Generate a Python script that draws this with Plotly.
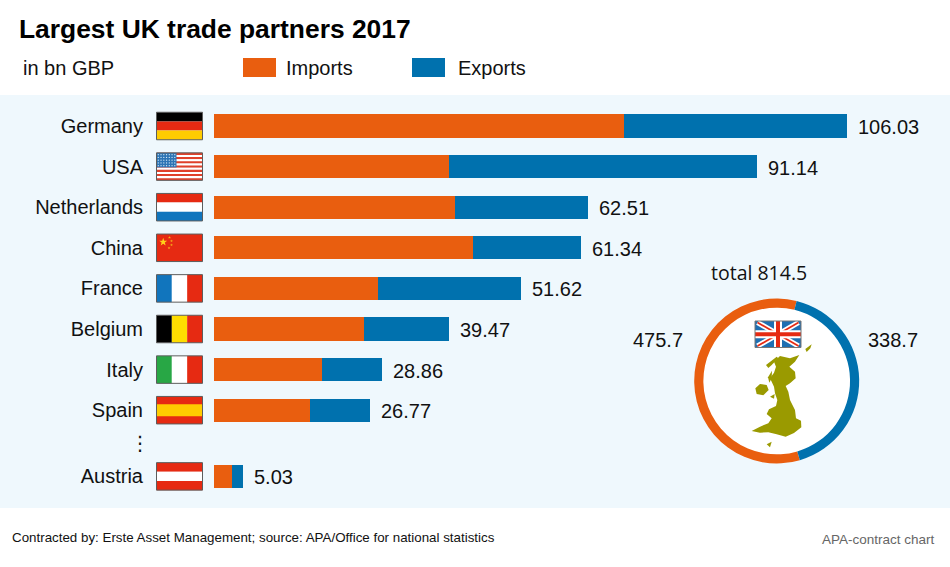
import plotly.graph_objects as go
import math

W, H = 950, 567
countries = ["Germany", "USA", "Netherlands", "China", "France", "Belgium", "Italy", "Spain", "Austria"]
imports = [68.7, 39.4, 40.4, 43.4, 27.4, 25.1, 18.1, 16.1, 3.0]
exports = [37.33, 51.5, 22.2, 18.1, 24.1, 14.3, 10.1, 10.1, 1.8]
totals = [106.03, 91.14, 62.51, 61.34, 51.62, 39.47, 28.86, 26.77, 5.03]
rows = [0, 1, 2, 3, 4, 5, 6, 7, 8.63]
ring_labels = ["Imports", "Exports"]
ring_values = [475.7, 338.7]
ring_total = 814.5

ORANGE = "#E95E0F"
BLUE = "#0071AE"
PANEL = "#EFF8FD"
FONT = "Liberation Sans"
RED, YEL = "#E62A12", "#FFCC00"
BORDER = "#5d5d5d"

PANEL_TOP, PANEL_BOT = 95, 508
ROW0, ROW_STEP = 126, 40.6
BAR_X0, PX_PER = 214, 5.97

fx = lambda x: x / W
fy = lambda y: 1 - y / H


def pth(pts):
    return "M" + "L".join(f"{fx(x):.5f},{fy(y):.5f}" for x, y in pts) + "Z"


shapes = []


def poly(pts, color, layer="below"):
    shapes.append(dict(type="path", path=pth(pts), xref="paper", yref="paper",
                       fillcolor=color, line=dict(width=0), layer=layer))


def box(x0, y0, x1, y1, color, line=None, layer="below"):
    shapes.append(dict(type="rect", xref="paper", yref="paper", x0=fx(x0), x1=fx(x1),
                       y0=fy(y0), y1=fy(y1), fillcolor=color, layer=layer,
                       line=dict(width=1, color=line) if line else dict(width=0)))


def circle(cx, cy, r, color):
    shapes.append(dict(type="circle", xref="paper", yref="paper", x0=fx(cx - r), x1=fx(cx + r),
                       y0=fy(cy - r), y1=fy(cy + r), fillcolor=color, line=dict(width=0), layer="below"))


box(0, PANEL_TOP, W, PANEL_BOT, PANEL)

FX0, FX1, FH = 156.5, 202.5, 27.5


def hstripes(cy, cols):
    t = cy - FH / 2
    n = len(cols)
    for i, c in enumerate(cols):
        box(FX0, t + FH * i / n, FX1, t + FH * (i + 1) / n, c)


def vstripes(cy, cols):
    t = cy - FH / 2
    n = len(cols)
    w = (FX1 - FX0) / n
    for i, c in enumerate(cols):
        box(FX0 + w * i, t, FX0 + w * (i + 1), t + FH, c)


def frame(cy):
    box(FX0, cy - FH / 2, FX1, cy + FH / 2, "rgba(0,0,0,0)", line=BORDER)


def star(cx, cy, r, color):
    pts = []
    for i in range(10):
        a = -math.pi / 2 + i * math.pi / 5
        rr = r if i % 2 == 0 else r * 0.4
        pts.append((cx + rr * math.cos(a), cy + rr * math.sin(a)))
    poly(pts, color)


cys = [ROW0 + ROW_STEP * r for r in rows]
hstripes(cys[0], ["#000000", RED, YEL])
# USA
t = cys[1] - FH / 2
for i in range(13):
    c = "#E0402A" if i % 2 == 0 else "#ffffff"
    box(FX0, t + FH * i / 13, FX1, t + FH * (i + 1) / 13, c)
box(FX0, t, FX0 + 20, t + 14.5, "#2C74B5")
for j in range(5):
    for i in range(7):
        circle(FX0 + 1.8 + i * 2.75, t + 1.8 + j * 2.75, 0.65, "#D5E8F5")
hstripes(cys[2], [RED, "#ffffff", "#1175BD"])
# China
box(FX0, cys[3] - FH / 2, FX1, cys[3] + FH / 2, RED)
star(163.2, 242, 4.2, "#FFD21A")
for dx, dy in ((169.5, 237.5), (171.5, 241), (171.5, 245), (169, 248)):
    star(dx, dy, 1.5, "#F6B51A")
vstripes(cys[4], ["#1175BD", "#ffffff", RED])
vstripes(cys[5], ["#000000", "#FFDD00", RED])
vstripes(cys[6], ["#28A745", "#ffffff", RED])
t = cys[7] - FH / 2
box(FX0, t, FX1, t + FH, RED)
box(FX0, t + FH * 0.28, FX1, t + FH * 0.72, YEL)
hstripes(cys[8], [RED, "#ffffff", RED])
for cy in cys:
    frame(cy)

# legend swatches
box(243, 58, 276, 77, ORANGE)
box(412, 58, 445, 77, BLUE)

# white centre of the ring
RCX, RCY, ROUT = 776.7, 381, 82.5
circle(RCX, RCY, ROUT - 1, "#ffffff")

# UK flag
ux0, ux1, uy0, uy1 = 755, 801, 321, 347.5
box(ux0, uy0, ux1, uy1, "#1F6FB2")


def diag(x0, y0, x1, y1, hw, color):
    dx, dy = x1 - x0, y1 - y0
    L = math.hypot(dx, dy)
    nx, ny = -dy / L * hw, dx / L * hw
    poly([(x0 + nx, y0 + ny), (x1 + nx, y1 + ny), (x1 - nx, y1 - ny), (x0 - nx, y0 - ny)], color)


diag(ux0 + 2.5, uy0 + 1.5, ux1 - 2.5, uy1 - 1.5, 2.6, "#ffffff")
diag(ux0 + 2.5, uy1 - 1.5, ux1 - 2.5, uy0 + 1.5, 2.6, "#ffffff")
diag(ux0 + 2.5, uy0 + 1.5, ux1 - 2.5, uy1 - 1.5, 0.9, RED)
diag(ux0 + 2.5, uy1 - 1.5, ux1 - 2.5, uy0 + 1.5, 0.9, RED)
mx, my = (ux0 + ux1) / 2, (uy0 + uy1) / 2
box(mx - 4, uy0, mx + 4, uy1, "#ffffff")
box(ux0, my - 4, ux1, my + 4, "#ffffff")
box(mx - 2, uy0, mx + 2, uy1, RED)
box(ux0, my - 2, ux1, my + 2, RED)
box(ux0, uy0, ux1, uy1, "rgba(0,0,0,0)", line="#777777")

# UK outline, traced by eye
OLIVE = "#9A9A00"
mp = lambda pts: [(620 + x / 3, 250 + y / 3) for x, y in pts]
gb = [(480, 318), (510, 325), (538, 315), (525, 335), (508, 350), (525, 365), (527, 385), (510, 400),
      (497, 408), (505, 425), (510, 450), (525, 480), (528, 505), (543, 512), (544, 532), (522, 549),
      (497, 560), (470, 553), (445, 547), (420, 548), (395, 543), (420, 530), (445, 520), (455, 505),
      (440, 492), (447, 478), (468, 468), (472, 450), (465, 430), (462, 410), (450, 385), (462, 368),
      (468, 350), (462, 335)]
poly(mp(gb), OLIVE)
for isle in ([(406, 415), (420, 402), (440, 405), (446, 420), (430, 436), (410, 432)],
             [(438, 345), (470, 320), (475, 325), (455, 345), (445, 354)],
             [(444, 382), (456, 362), (455, 385), (448, 398)],
             [(450, 440), (464, 432), (462, 446)],
             [(556, 297), (575, 283), (571, 295), (560, 306)],
             [(440, 583), (455, 575), (450, 592)]):
    poly(mp(isle), OLIVE)

fig = go.Figure()
for name, vals, col in (("Imports", imports, ORANGE), ("Exports", exports, BLUE)):
    fig.add_trace(go.Bar(y=rows, x=vals, name=name, orientation="h", marker=dict(color=col, line=dict(width=0)),
                         width=0.57, showlegend=False, hoverinfo="x+name"))

fig.add_trace(go.Pie(labels=ring_labels, values=ring_values, sort=False, direction="clockwise",
                     rotation=163.7, hole=0.889, textinfo="none", showlegend=False,
                     marker=dict(colors=[ORANGE, BLUE], line=dict(width=0)),
                     domain=dict(x=[fx(RCX - ROUT), fx(RCX + ROUT)], y=[fy(RCY + ROUT), fy(RCY - ROUT)])))

ann = []


def text(x, y, s, size=20, anchor="left", color="#111111", family=FONT):
    ann.append(dict(x=fx(x), y=fy(y), xref="paper", yref="paper", text=s, showarrow=False, xanchor=anchor,
                    yanchor="middle", font=dict(size=size, color=color, family=family),
                    borderpad=0, borderwidth=0))


for r, imp, exp, total in zip(rows, imports, exports, totals):
    ann.append(dict(x=imp + exp, y=r, xref="x", yref="y", text=f"{total:.2f}", showarrow=False, xanchor="left",
                    xshift=9, yshift=-1, font=dict(size=20, color="#111111", family=FONT)))

text(19, 29, "<b>Largest UK trade partners 2017</b>", size=26.4, color="#000000")
text(23, 67.5, "in bn GBP")
text(286, 67.5, "Imports")
text(458, 68, "Exports")
text(711, 273, f"total {ring_total}", family="Open Sans", size=19.5)
text(683, 340, f"{ring_values[0]}", anchor="right")
text(868, 340, f"{ring_values[1]}")
text(140, 443, "⋮", anchor="center", family="DejaVu Sans")
text(12, 537, "Contracted by: Erste Asset Management; source: APA/Office for national statistics", size=13.35)
text(935, 539, "APA-contract chart", size=13.5, anchor="right", color="#666666")

fig.update_layout(
    width=W, height=H, autosize=False, margin=dict(l=0, r=0, t=0, b=0), paper_bgcolor="#ffffff",
    plot_bgcolor="rgba(0,0,0,0)", barmode="stack", shapes=shapes, annotations=ann,
    font=dict(family=FONT, color="#111111"),
    xaxis=dict(domain=[fx(BAR_X0), 1], range=[0, (W - BAR_X0) / PX_PER], visible=False, fixedrange=True),
    yaxis=dict(domain=[fy(PANEL_BOT), fy(PANEL_TOP)], anchor="free", position=fx(143),
               range=[(PANEL_BOT - ROW0) / ROW_STEP, (PANEL_TOP - ROW0) / ROW_STEP],
               tickmode="array", tickvals=rows, ticktext=countries, ticks="",
               showgrid=False, zeroline=False, showline=False, tickfont=dict(size=20, color="#111111", family=FONT),
               fixedrange=True),
)
fig.write_html("out.html", config=dict(displayModeBar=False),
               post_script="document.body.style.margin='0';window.dispatchEvent(new Event('resize'));")
